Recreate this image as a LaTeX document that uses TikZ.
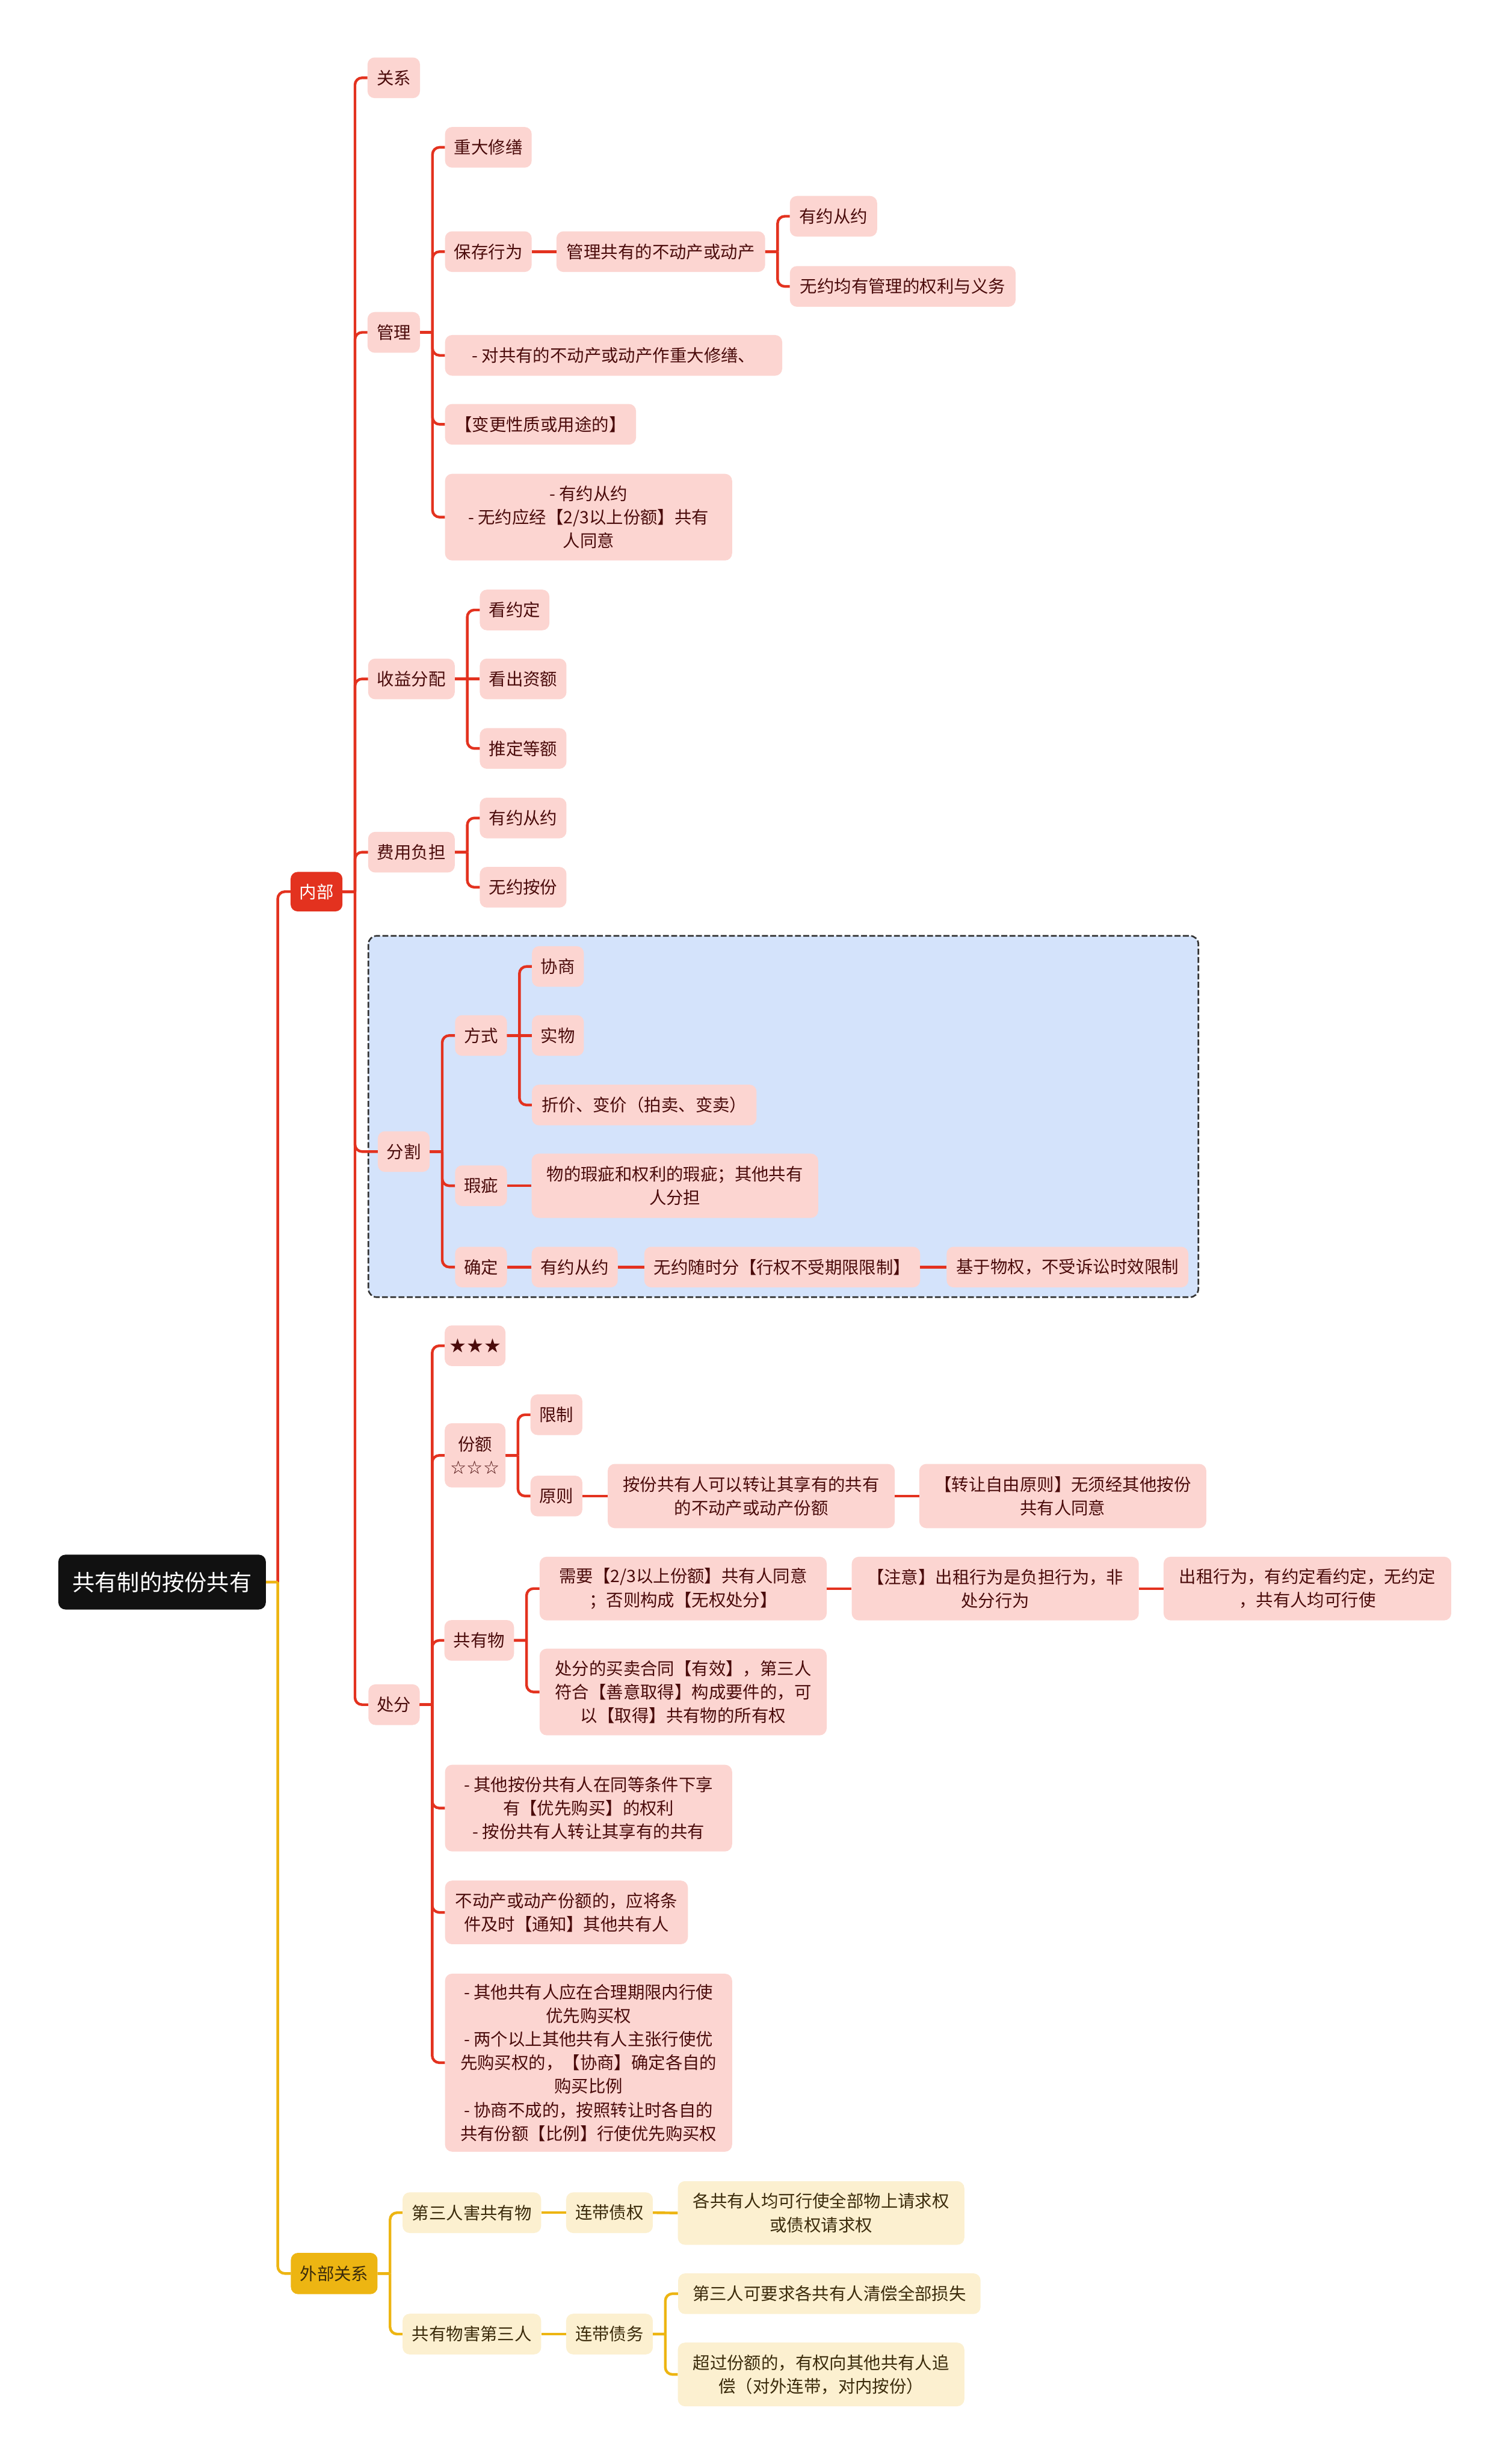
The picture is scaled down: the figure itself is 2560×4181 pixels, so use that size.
\documentclass[tikz,border=0pt]{standalone}
\usepackage{fontspec}
\newfontfamily\cjk{Noto Sans CJK SC}
\newfontfamily\dv{DejaVu Sans}
\definecolor{cred}{HTML}{E3321F}
\definecolor{pinkf}{HTML}{FCD5D1}
\definecolor{tred}{HTML}{4A0B0B}
\definecolor{cyel}{HTML}{EDB512}
\definecolor{creamf}{HTML}{FCF0D0}
\definecolor{tyel}{HTML}{3B2B0B}
\definecolor{bluef}{HTML}{D4E3FB}
\definecolor{rootf}{HTML}{111111}
\definecolor{dgray}{HTML}{333333}
\tikzset{
 base/.style={rounded corners=12pt, inner sep=0pt, align=center, minimum height=69pt, font=\cjk\fontsize{29}{40}\selectfont},
 pk/.style={base, fill=pinkf, text=tred},
 yl/.style={base, fill=creamf, text=tyel},
 conn/.style={draw=cred, line width=4.5pt},
 yconn/.style={draw=cyel, line width=4.5pt},
}
\newcommand\elb[3][conn]{\draw[#1] (#2.east) -- ++(21,0) (#2.east) ++(21,0) [rounded corners=12pt] |- (#3.west);}
\begin{document}
\begin{tikzpicture}[x=1pt,y=-1pt]
\useasboundingbox (0,0) rectangle (2560,4181);
\fill[white] (0,0) rectangle (2560,4181);
% dashed group box
\draw[draw=dgray, line width=2.7pt, dash pattern=on 10pt off 4pt, fill=bluef, rounded corners=14pt] (625,1588) rectangle (2033,2201);
% root
\node[base, fill=rootf, text=white, minimum width=352pt, minimum height=93pt, font=\cjk\fontsize{38}{46}\selectfont] (root) at (275,2684.5) {共有制的按份共有};
\node[base, fill=cred, text=white, minimum width=88pt, minimum height=67pt] (neibu) at (537,1513) {内部};
\node[base, fill=cyel, text=tyel, minimum width=147pt, minimum height=70pt] (waibu) at (567,3857.7) {外部关系};
% 内部 children
\node[pk,minimum width=89pt] (guanxi) at (668,132) {关系};
\node[pk,minimum width=89pt] (guanli) at (668,564) {管理};
\node[pk,minimum width=147pt] (zhongda) at (828.5,250) {重大修缮};
\node[pk,minimum width=147pt] (baocun) at (828.5,427) {保存行为};
\node[pk,minimum width=354pt] (glgy) at (1121,427) {管理共有的不动产或动产};
\node[pk,minimum width=148pt] (yy1) at (1414,367) {有约从约};
\node[pk,minimum width=383pt] (wy1) at (1531.5,486) {无约均有管理的权利与义务};
\node[pk,minimum width=572pt] (dui) at (1041,603) {- 对共有的不动产或动产作重大修缮、};
\node[pk,minimum width=324pt] (bg) at (917,720) {【变更性质或用途的】};
\node[pk,minimum width=487pt,minimum height=147pt] (tall) at (998.5,877.5) {- 有约从约\\- 无约应经【2/3以上份额】共有\\人同意};
\node[pk,minimum width=147pt] (shouyi) at (698,1152) {收益分配};
\node[pk,minimum width=118pt] (kanyue) at (873,1035) {看约定};
\node[pk,minimum width=147pt] (kanchu) at (887.5,1152) {看出资额};
\node[pk,minimum width=147pt] (tuiding) at (887.5,1270) {推定等额};
\node[pk,minimum width=147pt] (feiyong) at (698,1446) {费用负担};
\node[pk,minimum width=147pt] (yy2) at (887.5,1388) {有约从约};
\node[pk,minimum width=147pt] (wy2) at (887.5,1505.5) {无约按份};
\node[pk,minimum width=88pt] (fenge) at (685,1954) {分割};
\node[pk,minimum width=88pt] (fangshi) at (816,1757) {方式};
\node[pk,minimum width=88pt] (xieshang) at (946.5,1640) {协商};
\node[pk,minimum width=88pt] (shiwu) at (946.5,1757) {实物};
\node[pk,minimum width=381pt] (zhejia) at (1093,1875) {折价、变价（拍卖、变卖）};
\node[pk,minimum width=88pt] (xiaci) at (816,2012) {瑕疵};
\node[pk,minimum width=486pt,minimum height=109pt] (xiaci2) at (1145,2012) {物的瑕疵和权利的瑕疵；其他共有\\人分担};
\node[pk,minimum width=88pt] (queding) at (816,2150) {确定};
\node[pk,minimum width=146pt] (yy3) at (975,2150) {有约从约};
\node[pk,minimum width=468pt] (wy3) at (1327,2150) {无约随时分【行权不受期限限制】};
\node[pk,minimum width=410pt] (jiyu) at (1811,2150) {基于物权，不受诉讼时效限制};
\node[pk,minimum width=87pt] (chufen) at (668.5,2892.5) {处分};
\node[pk,minimum width=103pt] (stars) at (806,2283.5) {{\dv\fontsize{33}{40}\selectfont ★★★}};
\node[pk,minimum width=103pt,minimum height=109pt] (fene) at (806,2469.5) {份额\\{\dv\fontsize{31}{40}\selectfont ☆☆☆}};
\node[pk,minimum width=88pt] (xianzhi) at (944,2400.5) {限制};
\node[pk,minimum width=88pt] (yuanze) at (944,2538.5) {原则};
\node[pk,minimum width=487pt,minimum height=109pt] (anfen) at (1274.5,2538.5) {按份共有人可以转让其享有的共有\\的不动产或动产份额};
\node[pk,minimum width=487pt,minimum height=109pt] (zhuanrang) at (1803,2538.5) {【转让自由原则】无须经其他按份\\共有人同意};
\node[pk,minimum width=118pt] (gyw) at (813,2783.5) {共有物};
\node[pk,minimum width=487pt,minimum height=108pt] (xuyao) at (1159,2695.5) {需要【2/3以上份额】共有人同意\\；否则构成【无权处分】};
\node[pk,minimum width=487pt,minimum height=108pt] (zhuyi) at (1688.5,2695.5) {【注意】出租行为是负担行为，非\\处分行为};
\node[pk,minimum width=488pt,minimum height=108pt] (chuzu) at (2218,2695.5) {出租行为，有约定看约定，无约定\\，共有人均可行使};
\node[pk,minimum width=487pt,minimum height=147pt] (maimai) at (1159,2871) {处分的买卖合同【有效】，第三人\\符合【善意取得】构成要件的，可\\以【取得】共有物的所有权};
\node[pk,minimum width=487pt,minimum height=147pt] (qita1) at (998.5,3068) {- 其他按份共有人在同等条件下享\\有【优先购买】的权利\\- 按份共有人转让其享有的共有};
\node[pk,minimum width=412pt,minimum height=108pt] (budong) at (961,3245) {不动产或动产份额的，应将条\\件及时【通知】其他共有人};
\node[pk,minimum width=487pt,minimum height=302pt] (qita2) at (998.5,3500) {- 其他共有人应在合理期限内行使\\优先购买权\\- 两个以上其他共有人主张行使优\\先购买权的，【协商】确定各自的\\购买比例\\- 协商不成的，按照转让时各自的\\共有份额【比例】行使优先购买权};
% 外部关系 children
\node[yl,minimum width=235pt] (dsh) at (800.5,3754.5) {第三人害共有物};
\node[yl,minimum width=147pt] (ldq) at (1034,3754.5) {连带债权};
\node[yl,minimum width=486pt,minimum height=108pt] (ggy) at (1393,3755) {各共有人均可行使全部物上请求权\\或债权请求权};
\node[yl,minimum width=235pt] (gyh) at (800.5,3960.5) {共有物害第三人};
\node[yl,minimum width=147pt] (ldw) at (1034,3960.5) {连带债务};
\node[yl,minimum width=513pt] (dsk) at (1407,3892) {第三人可要求各共有人清偿全部损失};
\node[yl,minimum width=486pt,minimum height=108pt] (cgf) at (1393,4029) {超过份额的，有权向其他共有人追\\偿（对外连带，对内按份）};
% connectors
\draw[conn] (root.east) -- ++(20,0) (root.east) ++(20,0) [rounded corners=12pt] |- (neibu.west);
\draw[yconn] (root.east) -- ++(20,0) (root.east) ++(20,0) [rounded corners=12pt] |- (waibu.west);
\elb{neibu}{guanxi}
\elb{neibu}{guanli}
\elb{neibu}{shouyi}
\elb{neibu}{feiyong}
\elb{neibu}{fenge}
\elb{neibu}{chufen}
\elb{guanli}{zhongda}
\elb{guanli}{baocun}
\elb{guanli}{dui}
\elb{guanli}{bg}
\elb{guanli}{tall}
\draw[conn] (baocun.east) -- (glgy.west);
\elb{glgy}{yy1}
\elb{glgy}{wy1}
\elb{shouyi}{kanyue}
\draw[conn] (shouyi.east) -- (kanchu.west);
\elb{shouyi}{tuiding}
\elb{feiyong}{yy2}
\elb{feiyong}{wy2}
\elb{fenge}{fangshi}
\elb{fenge}{xiaci}
\elb{fenge}{queding}
\elb{fangshi}{xieshang}
\draw[conn] (fangshi.east) -- (shiwu.west);
\elb{fangshi}{zhejia}
\draw[conn] (xiaci.east) -- (xiaci2.west);
\draw[conn] (queding.east) -- (yy3.west);
\draw[conn] (yy3.east) -- (wy3.west);
\draw[conn] (wy3.east) -- (jiyu.west);
\elb{chufen}{stars}
\elb{chufen}{fene}
\elb{chufen}{gyw}
\elb{chufen}{qita1}
\elb{chufen}{budong}
\elb{chufen}{qita2}
\elb{fene}{xianzhi}
\elb{fene}{yuanze}
\draw[conn] (yuanze.east) -- (anfen.west);
\draw[conn] (anfen.east) -- (zhuanrang.west);
\elb{gyw}{xuyao}
\elb{gyw}{maimai}
\draw[conn] (xuyao.east) -- (zhuyi.west);
\draw[conn] (zhuyi.east) -- (chuzu.west);
\elb[yconn]{waibu}{dsh}
\elb[yconn]{waibu}{gyh}
\draw[yconn] (dsh.east) -- (ldq.west);
\draw[yconn] (ldq.east) -- (ggy.west);
\draw[yconn] (gyh.east) -- (ldw.west);
\elb[yconn]{ldw}{dsk}
\elb[yconn]{ldw}{cgf}
\end{tikzpicture}
\end{document}
